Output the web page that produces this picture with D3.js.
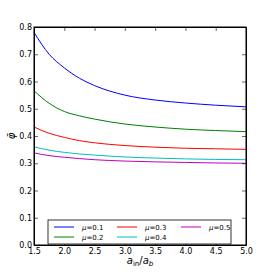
<!DOCTYPE html>
<html>
<head>
<meta charset="utf-8">
<script src="https://cdn.jsdelivr.net/npm/d3@7"></script>
<style>
body { margin: 0; background: #fff; }
text { font-family: "DejaVu Sans", sans-serif; }
</style>
</head>
<body>
<script>
// ratio a_in / a_b
const ratio = [1.5, 1.75, 2.0, 2.25, 2.5, 3.0, 3.5, 4.0, 4.5, 5.0];
// phi-bar for each mu
const mu01 = [0.78, 0.70, 0.65, 0.612, 0.585, 0.55, 0.532, 0.521, 0.513, 0.507];
const mu02 = [0.566, 0.52, 0.49, 0.474, 0.462, 0.444, 0.433, 0.425, 0.42, 0.416];
const mu03 = [0.433, 0.41, 0.395, 0.383, 0.375, 0.365, 0.359, 0.355, 0.353, 0.351];
const mu04 = [0.36, 0.348, 0.34, 0.334, 0.33, 0.323, 0.319, 0.316, 0.314, 0.313];
const mu05 = [0.338, 0.328, 0.322, 0.317, 0.313, 0.308, 0.305, 0.303, 0.301, 0.300];
const muLabels = ['0.1', '0.2', '0.3', '0.4', '0.5'];
const colors = ['#0000ff', '#008000', '#ff0000', '#00bfbf', '#bf00bf'];
const xTicks = [1.5, 2.0, 2.5, 3.0, 3.5, 4.0, 4.5, 5.0];
const yTicks = [0, 0.1, 0.2, 0.3, 0.4, 0.5, 0.6, 0.7, 0.8];

const series = [mu01, mu02, mu03, mu04, mu05];

const width = 274, height = 274;
const margin = {top: 27, right: 28, bottom: 29, left: 34};
const svg = d3.select('body').append('svg').attr('width', width).attr('height', height);

const x = d3.scaleLinear().domain([1.5, 5.0]).range([margin.left, width - margin.right]);
const y = d3.scaleLinear().domain([0, 0.8]).range([height - margin.bottom, margin.top]);

// curves
const line = d3.line().x((d, i) => x(ratio[i])).y(d => y(d)).curve(d3.curveMonotoneX);
series.forEach((s, k) => {
  svg.append('path').attr('d', line(s))
    .attr('fill', 'none').attr('stroke', colors[k]).attr('stroke-width', 1);
});

// axes with inward ticks on every side
const tl = 4;
svg.append('g').attr('transform', 'translate(0,' + y(0) + ')')
  .call(d3.axisBottom(x).tickValues(xTicks).tickFormat(d3.format('.1f')).tickSizeInner(-tl).tickSizeOuter(0).tickPadding(3))
  .call(g => g.selectAll('text').attr('font-size', 8).attr('fill', '#000'));
svg.append('g').attr('transform', 'translate(0,' + y(0.8) + ')')
  .call(d3.axisTop(x).tickValues(xTicks).tickFormat('').tickSizeInner(-tl).tickSizeOuter(0));
svg.append('g').attr('transform', 'translate(' + x(1.5) + ',0)')
  .call(d3.axisLeft(y).tickValues(yTicks).tickFormat(d3.format('.1f')).tickSizeInner(-tl).tickSizeOuter(0).tickPadding(2))
  .call(g => g.selectAll('text').attr('font-size', 8).attr('fill', '#000'));
svg.append('g').attr('transform', 'translate(' + x(5.0) + ',0)')
  .call(d3.axisRight(y).tickValues(yTicks).tickFormat('').tickSizeInner(-tl).tickSizeOuter(0));
svg.selectAll('.domain').attr('stroke', '#000').attr('stroke-width', 1);
svg.selectAll('.tick line').attr('stroke', '#000').attr('stroke-width', 0.6);

// frame
svg.append('rect').attr('x', x(1.5)).attr('y', y(0.8))
  .attr('width', x(5.0) - x(1.5)).attr('height', y(0) - y(0.8))
  .attr('fill', 'none').attr('stroke', '#000').attr('stroke-width', 1);

// axis labels
svg.append('text').attr('transform', 'translate(12,' + y(0.4) + ') rotate(-90)')
  .attr('text-anchor', 'middle').attr('dominant-baseline', 'middle')
  .attr('font-family', 'DejaVu Serif').attr('font-style', 'italic').attr('font-size', 10)
  .text('\u03C6\u0304');
const xl = svg.append('text').attr('x', x(3.25)).attr('y', 264)
  .attr('text-anchor', 'middle').attr('font-family', 'DejaVu Serif').attr('font-size', 10);
xl.append('tspan').attr('font-style', 'italic').text('a');
xl.append('tspan').attr('font-size', 7).attr('dy', 2).text('in');
xl.append('tspan').attr('dy', -2).text('/');
xl.append('tspan').attr('font-style', 'italic').text('a');
xl.append('tspan').attr('font-style', 'italic').attr('font-size', 7).attr('dy', 2).text('b');

// legend
const lg = svg.append('g');
lg.append('rect').attr('x', 48).attr('y', 220).attr('width', 183).attr('height', 24)
  .attr('fill', '#fff').attr('stroke', '#000').attr('stroke-width', 0.8);
const colX = [54, 117, 181];
series.forEach((s, k) => {
  const cx = colX[Math.floor(k / 2)];
  const cy = k % 2 === 0 ? 227 : 237;
  lg.append('line').attr('x1', cx).attr('x2', cx + 20).attr('y1', cy).attr('y2', cy)
    .attr('stroke', colors[k]).attr('stroke-width', 1);
  const t = lg.append('text').attr('x', cx + 28).attr('y', cy + 2.5)
    .attr('font-family', 'DejaVu Serif').attr('font-size', 7);
  t.append('tspan').attr('font-style', 'italic').text('\u03BC');
  t.append('tspan').text('=' + muLabels[k]);
});
</script>
</body>
</html>
